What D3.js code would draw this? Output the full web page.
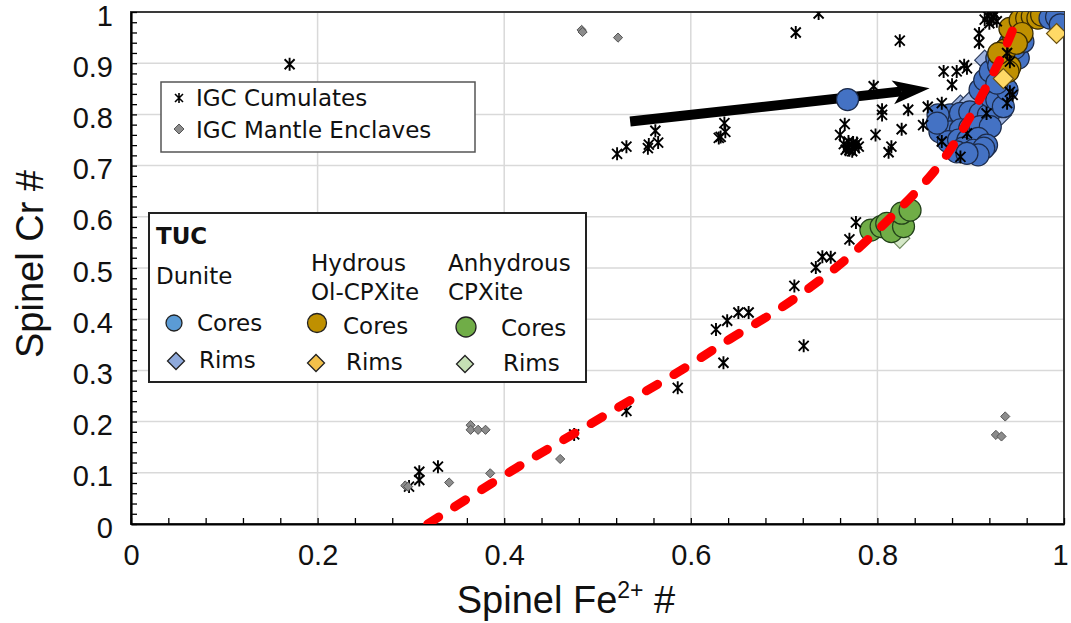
<!DOCTYPE html>
<html>
<head>
<meta charset="utf-8">
<script src="https://cdn.jsdelivr.net/npm/d3@7/dist/d3.min.js"></script>
<style>
  body { margin: 0; background: #fff; }
  svg { display: block; }
</style>
</head>
<body>
<svg id="chart" width="1071" height="623"></svg>
<script>
// ---- Axis ticks ----
const xTickLabels = [0, 0.2, 0.4, 0.6, 0.8, 1];
const yTickLabels = [0, 0.1, 0.2, 0.3, 0.4, 0.5, 0.6, 0.7, 0.8, 0.9, 1];

// ---- IGC Cumulates (Fe2+#, Cr#) ----
const cumulatesX = [0.170, 0.298, 0.309, 0.309, 0.329, 0.475, 0.531, 0.586, 0.627, 0.635, 0.639, 0.651, 0.662,
  0.711, 0.721, 0.734, 0.741, 0.750, 0.770, 0.777,
  0.521, 0.531, 0.554, 0.555, 0.565, 0.562, 0.636, 0.637, 0.630, 0.632,
  0.7125, 0.737, 0.824, 0.765, 0.760,
  0.764, 0.768, 0.772, 0.776, 0.770, 0.778, 0.766, 0.774, 0.780, 0.773, 0.769,
  0.796, 0.798, 0.805, 0.805, 0.815, 0.812, 0.826, 0.833, 0.849, 0.854, 0.869, 0.869,
  0.871, 0.885, 0.893, 0.896, 0.880, 0.909, 0.909,
  0.915, 0.920, 0.924, 0.928, 0.918, 0.926, 0.922,
  0.896, 0.889, 0.942, 0.945, 0.939, 0.917, 0.942, 0.939];
const cumulatesY = [0.898, 0.073, 0.102, 0.086, 0.112, 0.175, 0.221, 0.266, 0.380, 0.315, 0.397, 0.413, 0.413,
  0.465, 0.348, 0.501, 0.522, 0.521, 0.556, 0.589,
  0.723, 0.737, 0.734, 0.741, 0.745, 0.768, 0.783, 0.766, 0.754, 0.756,
  0.960, 0.997, 0.944, 0.781, 0.760,
  0.742, 0.736, 0.740, 0.734, 0.730, 0.744, 0.731, 0.745, 0.737, 0.728, 0.747,
  0.855, 0.760, 0.809, 0.799, 0.737, 0.726, 0.771, 0.809, 0.779, 0.815, 0.822, 0.747,
  0.884, 0.884, 0.896, 0.890, 0.858, 0.958, 0.940,
  0.985, 0.978, 0.990, 0.982, 0.993, 0.996, 0.986,
  0.763, 0.717, 0.844, 0.838, 0.822, 0.802, 0.903, 0.920];

// ---- IGC Mantle Enclaves ----
const mantleX = [0.294, 0.297, 0.341, 0.364, 0.364, 0.372, 0.380, 0.385, 0.460, 0.483, 0.484, 0.522, 0.927, 0.933, 0.937];
const mantleY = [0.075, 0.073, 0.081, 0.193, 0.184, 0.184, 0.184, 0.099, 0.127, 0.965, 0.961, 0.950, 0.174, 0.171, 0.210];

// ---- TUC Dunite ----
const duniteCoresX = [0.768,
  0.871, 0.878, 0.889, 0.899, 0.910, 0.919, 0.867, 0.878, 0.889, 0.899, 0.910, 0.921,
  0.876, 0.887, 0.897, 0.908, 0.917, 0.892, 0.903, 0.914, 0.908, 0.885, 0.896, 0.865, 0.864,
  0.910, 0.915, 0.921, 0.928, 0.921, 0.928, 0.937, 0.942, 0.949, 0.949, 0.956, 0.964,
  0.935, 0.939, 0.951, 0.947, 0.956, 0.928, 0.930];
const duniteCoresY = [0.829,
  0.783, 0.799, 0.802, 0.805, 0.802, 0.799, 0.766, 0.766, 0.770, 0.773, 0.776, 0.776,
  0.747, 0.750, 0.750, 0.753, 0.740, 0.734, 0.730, 0.734, 0.721, 0.727, 0.724, 0.799, 0.783,
  0.848, 0.867, 0.835, 0.828, 0.884, 0.910, 0.926, 0.939, 0.952, 0.971, 0.984, 0.990,
  0.815, 0.848, 0.910, 0.929, 0.942, 0.861, 0.896];
// Dunite cores at the Fe-rich end of the array
const duniteEndX = [0.985, 0.992, 0.996];
const duniteEndY = [0.988, 0.990, 0.975];
const duniteRimsX = [0.889, 0.899, 0.915, 0.928, 0.933];
const duniteRimsY = [0.818, 0.825, 0.906, 0.809, 0.799];

// ---- TUC Hydrous Ol-CPXite ----
const hydrousCoresX = [0.937, 0.942, 0.940, 0.946, 0.942, 0.953, 0.960, 0.966, 0.972, 0.976, 0.955, 0.949, 0.930];
const hydrousCoresY = [0.926, 0.893, 0.884, 0.952, 0.968, 0.984, 0.988, 0.991, 0.988, 0.994, 0.958, 0.939, 0.919];
const hydrousRimsX = [0.992, 0.935];
const hydrousRimsY = [0.958, 0.870];

// ---- TUC Anhydrous CPXite ----
const anhydrousCoresX = [0.793, 0.804, 0.810, 0.815, 0.828, 0.826, 0.835];
const anhydrousCoresY = [0.574, 0.581, 0.587, 0.571, 0.581, 0.607, 0.613];
const anhydrousRimsX = [0.824];
const anhydrousRimsY = [0.558];

// ---- Trend line (red dashed) ----
const trendX = [0.318, 0.422, 0.476, 0.535, 0.597, 0.642, 0.686, 0.727, 0.767, 0.797, 0.834, 0.870, 0.896, 0.919, 0.935, 0.952];
const trendY = [0.000, 0.121, 0.177, 0.242, 0.307, 0.363, 0.408, 0.460, 0.516, 0.568, 0.633, 0.705, 0.783, 0.861, 0.919, 0.997];

// ---- Arrow annotation (from, to) ----
const arrowFrom = [0.535, 0.786];
const arrowTo = [0.856, 0.851];

const zip = (xs, ys) => xs.map((v, i) => [v, ys[i]]);

const svg = d3.select("#chart");
const W = 1071, H = 623;
const plot = { left: 131, right: 1064, top: 12, bottom: 524 };

const x = d3.scaleLinear().domain([0, 1]).range([plot.left, plot.right]);
const y = d3.scaleLinear().domain([0, 1]).range([plot.bottom, plot.top]);

svg.append("rect").attr("width", W).attr("height", H).attr("fill", "#fff");

svg.append("defs").append("clipPath").attr("id", "plotClip")
  .append("rect")
  .attr("x", plot.left).attr("y", plot.top)
  .attr("width", plot.right - plot.left).attr("height", plot.bottom - plot.top);

// Gridlines
const grid = svg.append("g");
grid.selectAll("line.vg").data(xTickLabels.slice(1, -1)).join("line")
  .attr("x1", d => x(d)).attr("x2", d => x(d))
  .attr("y1", plot.top).attr("y2", plot.bottom)
  .attr("stroke", "#d9d9d9").attr("stroke-width", 1.5);
grid.selectAll("line.hg").data(yTickLabels.slice(1, -1)).join("line")
  .attr("x1", plot.left).attr("x2", plot.right)
  .attr("y1", d => y(d)).attr("y2", d => y(d))
  .attr("stroke", "#d9d9d9").attr("stroke-width", 1.5);

// Plot frame
svg.append("rect")
  .attr("x", plot.left).attr("y", plot.top)
  .attr("width", plot.right - plot.left).attr("height", plot.bottom - plot.top)
  .attr("fill", "none").attr("stroke", "#3a3a3a").attr("stroke-width", 2);

// Axes: minor inward ticks
const xMinor = d3.range(0, 26).map(i => i * 0.04);
const yMinor = d3.range(0, 51).map(i => i * 0.02);

const xAxisG = svg.append("g").attr("transform", `translate(0,${plot.bottom})`)
  .call(d3.axisBottom(x).tickValues(xMinor).tickSize(-6).tickSizeOuter(0).tickFormat(""));
const yAxisG = svg.append("g").attr("transform", `translate(${plot.left},0)`)
  .call(d3.axisLeft(y).tickValues(yMinor).tickSize(-6).tickSizeOuter(0).tickFormat(""));
[xAxisG, yAxisG].forEach(g => {
  g.select(".domain").attr("stroke", "#000").attr("stroke-width", 2.2);
  g.selectAll(".tick line").attr("stroke", "#000").attr("stroke-width", 1.3);
});

const fmt = d => String(+d.toFixed(1));
const xLab = svg.append("g").attr("transform", `translate(0,${plot.bottom})`)
  .call(d3.axisBottom(x).tickValues(xTickLabels).tickSize(0).tickPadding(20).tickFormat(fmt));
xLab.select(".domain").remove();
xLab.selectAll("text").attr("font-family", "'Liberation Sans', Arial, sans-serif")
  .attr("font-size", 29).attr("fill", "#111")
  .attr("dx", d => d === 1 ? -4 : 0);

const yLab = svg.append("g").attr("transform", `translate(${plot.left},0)`)
  .call(d3.axisLeft(y).tickValues(yTickLabels).tickSize(0).tickPadding(18).tickFormat(fmt));
yLab.select(".domain").remove();
yLab.selectAll("text").attr("font-family", "'Liberation Sans', Arial, sans-serif")
  .attr("font-size", 29).attr("fill", "#111").attr("dy", "0.45em");

// Axis titles
const xTitle = svg.append("text")
  .attr("x", 566).attr("y", 613)
  .attr("text-anchor", "middle")
  .attr("font-family", "'Liberation Sans', Arial, sans-serif")
  .attr("font-size", 38).attr("fill", "#111");
xTitle.append("tspan").text("Spinel Fe");
xTitle.append("tspan").attr("font-size", 23).attr("dy", -15).text("2+");
xTitle.append("tspan").attr("dy", 15).text(" #");

svg.append("text")
  .attr("transform", "translate(43,264) rotate(-90)")
  .attr("text-anchor", "middle")
  .attr("font-family", "'Liberation Sans', Arial, sans-serif")
  .attr("font-size", 38).attr("fill", "#111")
  .text("Spinel Cr #");

// Data layer
const layer = svg.append("g").attr("clip-path", "url(#plotClip)");

// Arrow annotation
(function drawArrow() {
  const p0 = [x(arrowFrom[0]), y(arrowFrom[1])];
  const p1 = [x(arrowTo[0]), y(arrowTo[1])];
  const dx = p1[0] - p0[0], dy = p1[1] - p0[1];
  const len = Math.hypot(dx, dy);
  const u = [dx / len, dy / len], n = [-u[1], u[0]];
  const at = (a, b) => [p1[0] + u[0] * a + n[0] * b, p1[1] + u[1] * a + n[1] * b];
  const notch = at(-28, 0);
  layer.append("line")
    .attr("x1", p0[0]).attr("y1", p0[1]).attr("x2", notch[0]).attr("y2", notch[1])
    .attr("stroke", "#000").attr("stroke-width", 10);
  layer.append("path")
    .attr("d", "M" + [p1, at(-37, -12), notch, at(-37, 12)].map(p => p.join(",")).join("L") + "Z")
    .attr("fill", "#000");
})();

const diamond = r => `M0,${-r}L${r},0L0,${r}L${-r},0Z`;
const starPath = "M-5,-5L5,5M-5,5L5,-5M0,-6.5L0,6.5";

function circles(xs, ys, r, fill, stroke) {
  layer.append("g").selectAll("circle").data(zip(xs, ys)).join("circle")
    .attr("cx", d => x(d[0])).attr("cy", d => y(d[1])).attr("r", r)
    .attr("fill", fill).attr("stroke", stroke).attr("stroke-width", 1.2);
}
function diamonds(xs, ys, r, fill, stroke, sw) {
  layer.append("g").selectAll("path").data(zip(xs, ys)).join("path")
    .attr("transform", d => `translate(${x(d[0])},${y(d[1])})`)
    .attr("d", diamond(r))
    .attr("fill", fill).attr("stroke", stroke).attr("stroke-width", sw);
}

// TUC samples (dunite rims sit beneath the cores)
diamonds(duniteRimsX, duniteRimsY, 10, "#9DB3E0", "#2a3a5a", 1.2);
circles(duniteCoresX, duniteCoresY, 11, "#4472C4", "#1c2b4a");
circles(hydrousCoresX, hydrousCoresY, 11, "#BF9000", "#3a2c00");
circles(duniteEndX, duniteEndY, 11, "#4472C4", "#1c2b4a");
diamonds(hydrousRimsX, hydrousRimsY, 10, "#FFD966", "#6a5010", 1.2);
diamonds(anhydrousRimsX, anhydrousRimsY, 10, "#D5E8C8", "#6d8a5c", 1.2);
circles(anhydrousCoresX, anhydrousCoresY, 11, "#70AD47", "#22401a");

// IGC samples
layer.append("g").selectAll("path").data(zip(cumulatesX, cumulatesY)).join("path")
  .attr("transform", d => `translate(${x(d[0])},${y(d[1])})`)
  .attr("d", starPath)
  .attr("fill", "none").attr("stroke", "#000").attr("stroke-width", 1.9);
diamonds(mantleX, mantleY, 4.6, "#8c8c8c", "#555", 1);

// Trend line
layer.append("path")
  .datum(zip(trendX, trendY))
  .attr("d", d3.line().x(d => x(d[0])).y(d => y(d[1])).curve(d3.curveBasis))
  .attr("fill", "none").attr("stroke", "#ff0000").attr("stroke-width", 9)
  .attr("stroke-linecap", "round").attr("stroke-dasharray", "13,19");

// ---- Legend: IGC ----
const legFont = "'DejaVu Sans', Verdana, sans-serif";
const leg1 = svg.append("g");
leg1.append("rect").attr("x", 161).attr("y", 82).attr("width", 314).attr("height", 70)
  .attr("fill", "#fff").attr("stroke", "#555").attr("stroke-width", 1.5);
leg1.append("path").attr("transform", "translate(179,98)").attr("d", "M-4,-4L4,4M-4,4L4,-4M0,-5L0,5")
  .attr("stroke", "#000").attr("stroke-width", 1.6).attr("fill", "none");
leg1.append("path").attr("transform", "translate(179,129)").attr("d", diamond(5))
  .attr("fill", "#8c8c8c").attr("stroke", "#555");
leg1.append("text").attr("x", 196).attr("y", 106).text("IGC Cumulates");
leg1.append("text").attr("x", 196).attr("y", 138).text("IGC Mantle Enclaves");
leg1.selectAll("text").attr("font-family", legFont).attr("font-size", 23).attr("fill", "#111");

// ---- Legend: TUC ----
const leg2 = svg.append("g");
leg2.append("rect").attr("x", 149).attr("y", 213).attr("width", 437).attr("height", 169)
  .attr("fill", "#fff").attr("stroke", "#222").attr("stroke-width", 2);
const legTexts = [
  { t: "TUC", x: 156, y: 244, bold: true },
  { t: "Dunite", x: 156, y: 284 },
  { t: "Hydrous", x: 311, y: 271 },
  { t: "Ol-CPXite", x: 311, y: 300 },
  { t: "Anhydrous", x: 448, y: 271 },
  { t: "CPXite", x: 448, y: 300 },
  { t: "Cores", x: 197, y: 331 },
  { t: "Cores", x: 343, y: 334 },
  { t: "Cores", x: 501, y: 336 },
  { t: "Rims", x: 199, y: 368 },
  { t: "Rims", x: 346, y: 370 },
  { t: "Rims", x: 503, y: 371 }
];
leg2.selectAll("text").data(legTexts).join("text")
  .attr("x", d => d.x).attr("y", d => d.y)
  .attr("font-family", legFont).attr("font-size", 23)
  .attr("font-weight", d => d.bold ? "bold" : "normal")
  .attr("fill", "#111").text(d => d.t);
const legCircles = [
  { cx: 174, cy: 323, r: 8, fill: "#5B9BD5" },
  { cx: 317, cy: 323, r: 9.5, fill: "#BF9000" },
  { cx: 466, cy: 327, r: 10, fill: "#70AD47" }
];
leg2.selectAll("circle").data(legCircles).join("circle")
  .attr("cx", d => d.cx).attr("cy", d => d.cy).attr("r", d => d.r)
  .attr("fill", d => d.fill).attr("stroke", "#222").attr("stroke-width", 1.3);
const legDiamonds = [
  { cx: 176, cy: 361, fill: "#8FAADC" },
  { cx: 316, cy: 363, fill: "#F2C04A" },
  { cx: 465, cy: 364, fill: "#C5E0B4" }
];
leg2.selectAll("path").data(legDiamonds).join("path")
  .attr("transform", d => `translate(${d.cx},${d.cy})`)
  .attr("d", diamond(8.5))
  .attr("fill", d => d.fill).attr("stroke", "#222").attr("stroke-width", 1.3);
</script>
</body>
</html>
